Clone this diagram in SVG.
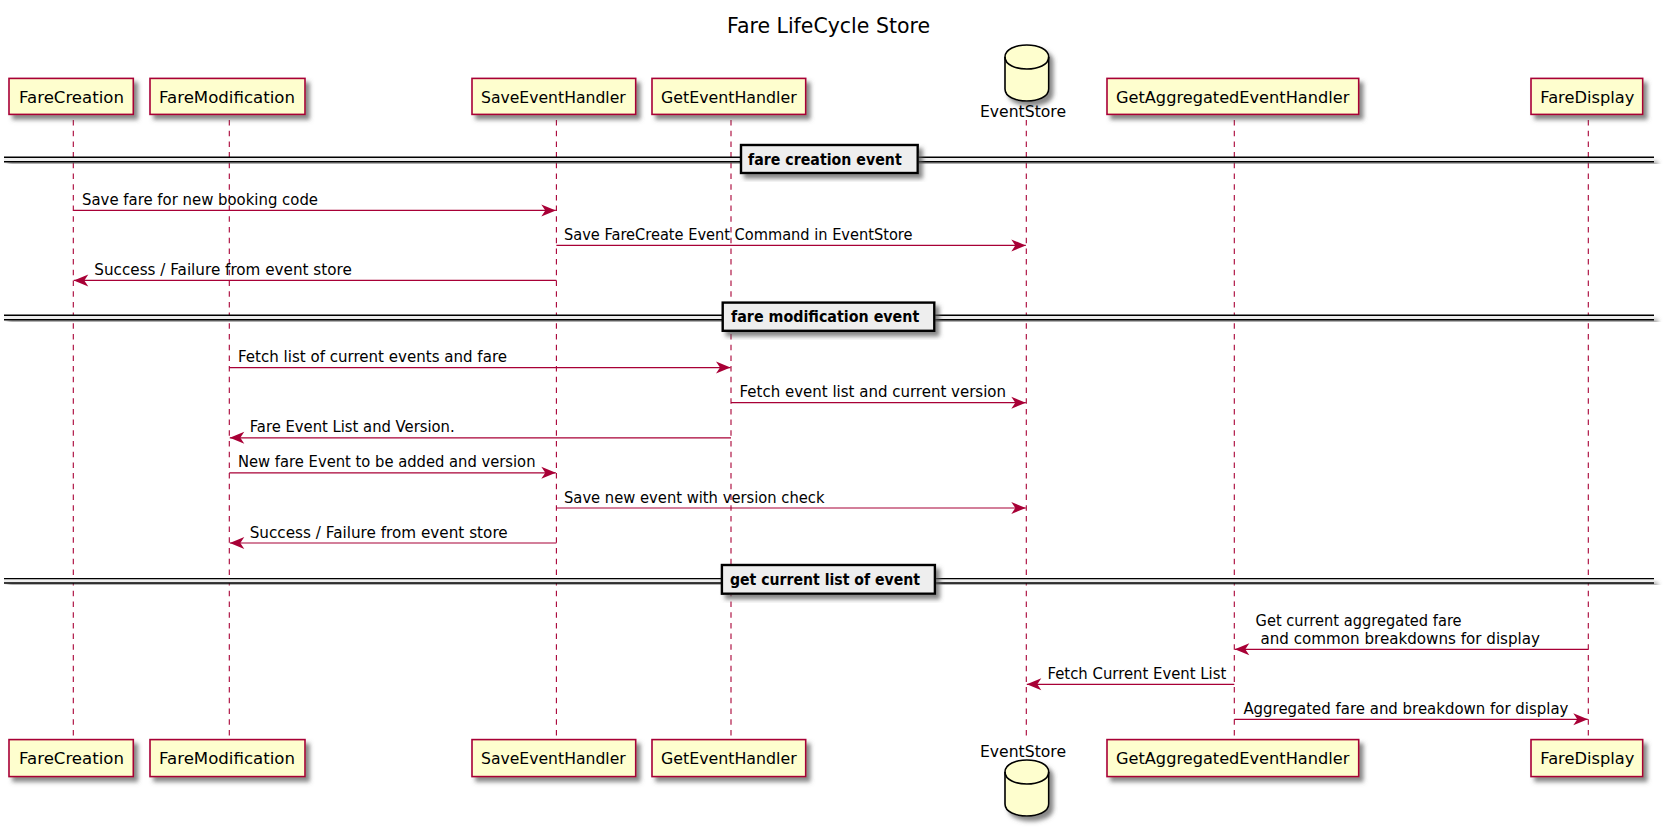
<svg xmlns="http://www.w3.org/2000/svg" width="1666" height="828" viewBox="0 0 1666 828">
<style>
text{font-family:"DejaVu Sans","Liberation Sans",sans-serif;fill:#000}
.t{font-size:15px}
.title{font-size:20.5px}
.b{font-size:15px;font-weight:bold}
.box{fill:#FEFECE;stroke:#A80036;stroke-width:1.6;filter:url(#sh)}
.db{fill:#FEFECE;stroke:#000;stroke-width:1.6;filter:url(#sh)}
.dl{fill:none;stroke:#000;stroke-width:1.6}
.life{stroke:#A80036;stroke-width:1.1;stroke-dasharray:5.5 5.2;fill:none}
.msg{stroke:#A80036;stroke-width:1.2;fill:none;marker-end:url(#arr)}
.dv{fill:#EEEEEE;stroke:#000;stroke-width:2.4;filter:url(#sh)}
.dvl{stroke:#000;stroke-width:1.4;fill:none}
</style>
<defs>
<filter id="sh" x="-20%" y="-20%" width="140%" height="150%"><feDropShadow dx="4" dy="4.5" stdDeviation="2.2" flood-color="#555" flood-opacity="0.7"/></filter>
<marker id="arr" markerUnits="userSpaceOnUse" markerWidth="16" markerHeight="15" refX="15" refY="7" orient="auto"><path d="M15,7 L0.5,1 L4.5,7 L0.5,13 Z" fill="#A80036"/></marker>
</defs>
<rect width="1666" height="828" fill="#fff"/>
<text class="title" x="727" y="32.5" textLength="203" lengthAdjust="spacingAndGlyphs">Fare LifeCycle Store</text>

<g id="lifelines">
<path class="life" d="M73.3,120V739"/>
<path class="life" d="M229.3,120V739"/>
<path class="life" d="M556.4,120V739"/>
<path class="life" d="M731,120V739"/>
<path class="life" d="M1026.3,120V739"/>
<path class="life" d="M1234.3,120V739"/>
<path class="life" d="M1588.3,120V739"/>
</g>

<g id="dividers">
<g id="divider-creation">
<rect x="4" y="157.3" width="1650" height="4.4" fill="#EEEEEE" filter="url(#sh)"/><path class="dvl" d="M4,157.3H1654M4,161.7H1654"/>
<rect class="dv" x="741" y="145" width="176.7" height="28"/>
<text class="b" x="748" y="165" textLength="153.7" lengthAdjust="spacingAndGlyphs">fare creation event</text>
</g>
<g id="divider-modification">
<rect x="4" y="315.3" width="1650" height="4.4" fill="#EEEEEE" filter="url(#sh)"/><path class="dvl" d="M4,315.3H1654M4,319.7H1654"/>
<rect class="dv" x="722.7" y="302.6" width="211.6" height="28.2"/>
<text class="b" x="731" y="322.3" textLength="188.3" lengthAdjust="spacingAndGlyphs">fare modification event</text>
</g>
<g id="divider-list">
<rect x="4" y="578.6" width="1650" height="4.4" fill="#EEEEEE" filter="url(#sh)"/><path class="dvl" d="M4,578.6H1654M4,583H1654"/>
<rect class="dv" x="721.9" y="565" width="213" height="28.7"/>
<text class="b" x="730" y="585.3" textLength="190" lengthAdjust="spacingAndGlyphs">get current list of event</text>
</g>
</g>

<g id="connectors">
<path class="msg" d="M73.3,210.4H555.8"/>
<text class="t" x="82" y="205" textLength="236" lengthAdjust="spacingAndGlyphs">Save fare for new booking code</text>
<path class="msg" d="M556.4,245.4H1025.8"/>
<text class="t" x="564" y="240" textLength="348.5" lengthAdjust="spacingAndGlyphs">Save FareCreate Event Command in EventStore</text>
<path class="msg" d="M556.4,280.4H73.8"/>
<text class="t" x="94.3" y="275" textLength="257.5" lengthAdjust="spacingAndGlyphs">Success / Failure from event store</text>
<path class="msg" d="M229.3,367.6H730.5"/>
<text class="t" x="238" y="362" textLength="269" lengthAdjust="spacingAndGlyphs">Fetch list of current events and fare</text>
<path class="msg" d="M731,402.7H1025.8"/>
<text class="t" x="739.5" y="397" textLength="266.5" lengthAdjust="spacingAndGlyphs">Fetch event list and current version</text>
<path class="msg" d="M731,437.8H229.8"/>
<text class="t" x="249.7" y="432" textLength="205" lengthAdjust="spacingAndGlyphs">Fare Event List and Version.</text>
<path class="msg" d="M229.3,472.8H555.8"/>
<text class="t" x="238" y="467" textLength="297.5" lengthAdjust="spacingAndGlyphs">New fare Event to be added and version</text>
<path class="msg" d="M556.4,508H1025.8"/>
<text class="t" x="564" y="502.5" textLength="260.5" lengthAdjust="spacingAndGlyphs">Save new event with version check</text>
<path class="msg" d="M556.4,543H229.8"/>
<text class="t" x="249.7" y="537.5" textLength="258" lengthAdjust="spacingAndGlyphs">Success / Failure from event store</text>
<path class="msg" d="M1588.3,649.3H1234.8"/>
<text class="t" x="1255.6" y="625.5" textLength="206" lengthAdjust="spacingAndGlyphs">Get current aggregated fare</text>
<text class="t" x="1260.5" y="643.5" textLength="279.5" lengthAdjust="spacingAndGlyphs">and common breakdowns for display</text>
<path class="msg" d="M1234.3,684.3H1026.8"/>
<text class="t" x="1047.5" y="679" textLength="178.8" lengthAdjust="spacingAndGlyphs">Fetch Current Event List</text>
<path class="msg" d="M1234.3,719.3H1587.8"/>
<text class="t" x="1243.4" y="714" textLength="325" lengthAdjust="spacingAndGlyphs">Aggregated fare and breakdown for display</text>
</g>

<g id="FareCreation">
<rect class="box" x="9" y="78.4" width="124.3" height="36"/><text class="t" x="19" y="102.6" textLength="105" lengthAdjust="spacingAndGlyphs">FareCreation</text>
<rect class="box" x="9" y="739.6" width="124.3" height="37"/><text class="t" x="19" y="764.3" textLength="105" lengthAdjust="spacingAndGlyphs">FareCreation</text>
</g>
<g id="FareModification">
<rect class="box" x="150" y="78.4" width="155" height="36"/><text class="t" x="159" y="102.6" textLength="136" lengthAdjust="spacingAndGlyphs">FareModification</text>
<rect class="box" x="150" y="739.6" width="155" height="37"/><text class="t" x="159" y="764.3" textLength="136" lengthAdjust="spacingAndGlyphs">FareModification</text>
</g>
<g id="SaveEventHandler">
<rect class="box" x="472" y="78.4" width="163.7" height="36"/><text class="t" x="481" y="102.6" textLength="144.7" lengthAdjust="spacingAndGlyphs">SaveEventHandler</text>
<rect class="box" x="472" y="739.6" width="163.7" height="37"/><text class="t" x="481" y="764.3" textLength="144.7" lengthAdjust="spacingAndGlyphs">SaveEventHandler</text>
</g>
<g id="GetEventHandler">
<rect class="box" x="652" y="78.4" width="153.7" height="36"/><text class="t" x="661" y="102.6" textLength="135.7" lengthAdjust="spacingAndGlyphs">GetEventHandler</text>
<rect class="box" x="652" y="739.6" width="153.7" height="37"/><text class="t" x="661" y="764.3" textLength="135.7" lengthAdjust="spacingAndGlyphs">GetEventHandler</text>
</g>
<g id="EventStore">
<path class="db" d="M1005,57C1005,41 1048.7,41 1048.7,57V89C1048.7,105 1005,105 1005,89Z"/>
<path class="dl" d="M1005,57C1005,73 1048.7,73 1048.7,57"/>
<text class="t" x="980" y="116.5" textLength="86" lengthAdjust="spacingAndGlyphs">EventStore</text>
<text class="t" x="980" y="756.5" textLength="86" lengthAdjust="spacingAndGlyphs">EventStore</text>
<path class="db" d="M1005,772C1005,756 1048.7,756 1048.7,772V804C1048.7,820 1005,820 1005,804Z"/>
<path class="dl" d="M1005,772C1005,788 1048.7,788 1048.7,772"/>
</g>
<g id="GetAggregatedEventHandler">
<rect class="box" x="1107" y="78.4" width="251.7" height="36"/><text class="t" x="1116" y="102.6" textLength="233.3" lengthAdjust="spacingAndGlyphs">GetAggregatedEventHandler</text>
<rect class="box" x="1107" y="739.6" width="251.7" height="37"/><text class="t" x="1116" y="764.3" textLength="233.3" lengthAdjust="spacingAndGlyphs">GetAggregatedEventHandler</text>
</g>
<g id="FareDisplay">
<rect class="box" x="1531" y="78.4" width="111.7" height="36"/><text class="t" x="1540.3" y="102.6" textLength="94" lengthAdjust="spacingAndGlyphs">FareDisplay</text>
<rect class="box" x="1531" y="739.6" width="111.7" height="37"/><text class="t" x="1540.3" y="764.3" textLength="94" lengthAdjust="spacingAndGlyphs">FareDisplay</text>
</g>
</svg>
